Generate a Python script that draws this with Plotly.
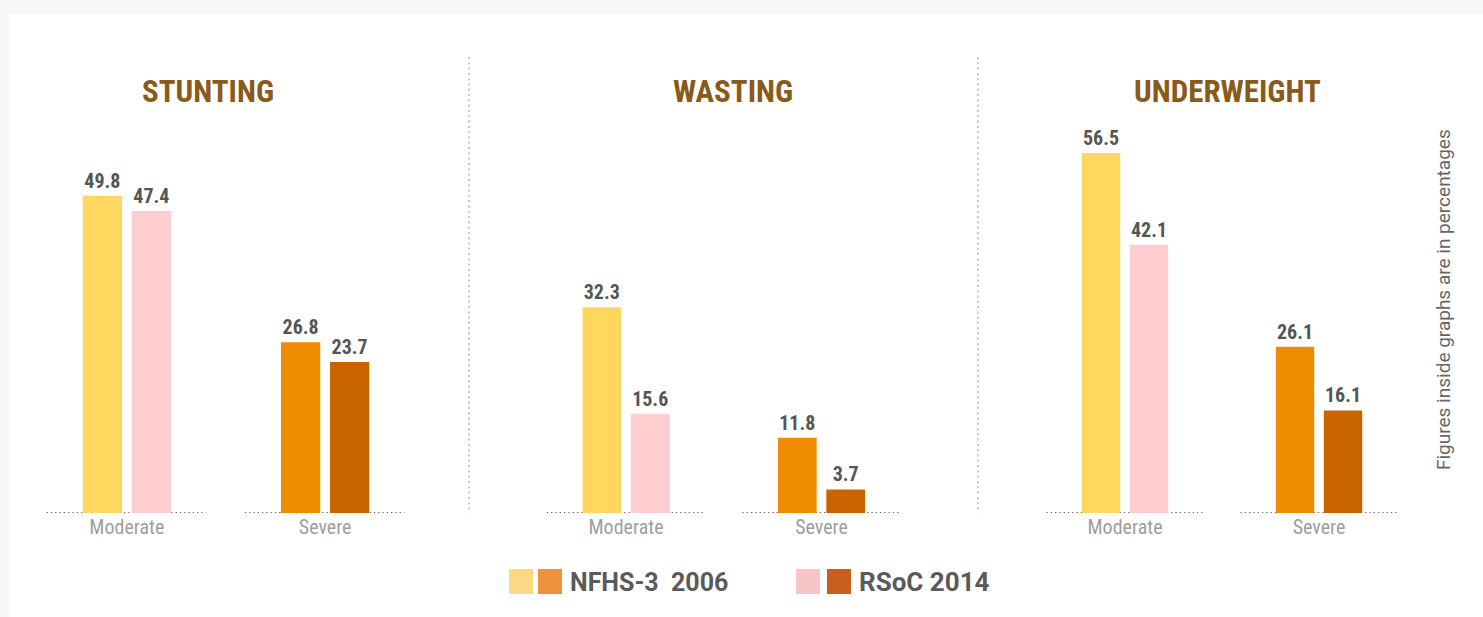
import plotly.graph_objects as go

W, H = 1483, 617

panels = ["STUNTING", "WASTING", "UNDERWEIGHT"]
categories = ["Moderate", "Severe"]
nfhs_2006 = [[49.8, 26.8], [32.3, 11.8], [56.5, 26.1]]
rsoc_2014 = [[47.4, 23.7], [15.6, 3.7], [42.1, 16.1]]
legend_labels = ["NFHS-3  2006", "RSoC 2014"]

COND = "Roboto Condensed, Roboto, sans-serif"
NFHS_COLORS = ["#ffd75e", "#ee8b00"]
RSOC_COLORS = ["#ffcccf", "#c96400"]

# pixel domains (x) for each panel, category centres spaced by group width
x_domains = [(27.75, 424.25), (528.25, 919.25), (1028, 1416)]
title_centres = [208, 733, 1227]
base_px, top_px = 513, 131
y_max = (base_px - top_px) / 6.37


def px(x):
    return x / W


def py(y):
    return 1 - y / H


fig = go.Figure()
shapes = []
annotations = []

for i, name in enumerate(panels):
    xa = "x" if i == 0 else f"x{i + 1}"
    ya = "y" if i == 0 else f"y{i + 1}"
    for vals, cols in ((nfhs_2006[i], NFHS_COLORS), (rsoc_2014[i], RSOC_COLORS)):
        fig.add_trace(go.Bar(
            x=categories, y=vals, xaxis=xa, yaxis=ya,
            marker=dict(color=cols, line=dict(width=0)),
            text=[f"{v:.1f}" for v in vals], textposition="outside",
            textfont=dict(family=COND, size=20, color="#555555", weight="bold"),
            cliponaxis=False, showlegend=False, hoverinfo="skip",
        ))
    d0, d1 = x_domains[i]
    fig.layout[f"xaxis{'' if i == 0 else i + 1}"] = dict(
        domain=[px(d0), px(d1)], anchor=ya, range=[-0.5, 1.5], showgrid=False,
        zeroline=False, showline=False, ticks="", fixedrange=True,
        tickfont=dict(family=COND, size=20, color="#9e9e9e"),
    )
    fig.layout[f"yaxis{'' if i == 0 else i + 1}"] = dict(
        domain=[py(base_px), py(top_px)], anchor=xa, range=[0, y_max],
        visible=False, fixedrange=True,
    )
    # dotted baselines under each category
    for c in range(2):
        shapes.append(dict(type="line", xref=xa, yref=ya, x0=c - 0.405, x1=c + 0.4,
                           y0=0, y1=0, line=dict(color="#333333", width=1.3, dash="1.3px,3px"),
                           layer="below"))
    annotations.append(dict(
        text=f"<b>{name}</b>", x=px(title_centres[i]), y=py(91), xref="paper", yref="paper",
        showarrow=False, xanchor="center", yanchor="middle",
        font=dict(family=COND, size=31, color="#8a5a19"),
    ))

# white card
shapes.insert(0, dict(type="rect", xref="paper", yref="paper", x0=px(9), x1=1.01,
                      y0=-0.01, y1=py(14), fillcolor="white", line=dict(width=0),
                      layer="below"))
# panel separators
for sx in (469, 978):
    shapes.append(dict(type="line", xref="paper", yref="paper", x0=px(sx), x1=px(sx),
                       y0=py(57), y1=py(513),
                       line=dict(color="#b5b5b5", width=1.5, dash="2px,3.3px")))

# legend
legend_swatches = [[("#fbd786", 509), ("#ef9240", 538)], [("#f7c5c8", 796), ("#c95f1f", 827)]]
legend_text_x = [568, 857]
legend_sizes = [25, 26]
for sw, lab, tx, fs in zip(legend_swatches, legend_labels, legend_text_x, legend_sizes):
    for col, x0 in sw:
        shapes.append(dict(type="rect", xref="paper", yref="paper", x0=px(x0), x1=px(x0 + 24),
                           y0=py(594), y1=py(569), fillcolor=col, line=dict(width=0)))
    annotations.append(dict(
        text=f"<b>{lab}</b>", x=px(tx), y=py(582), xref="paper", yref="paper",
        showarrow=False, xanchor="left", yanchor="middle",
        font=dict(family="Roboto, sans-serif", size=fs, color="#5a5a5a"),
    ))

annotations.append(dict(
    text="Figures inside graphs are in percentages", x=px(1443), y=py(300),
    xref="paper", yref="paper", showarrow=False, textangle=-90,
    xanchor="center", yanchor="middle",
    font=dict(family="Roboto, sans-serif", size=19, color="#666666"),
))

fig.update_layout(
    width=W, height=H, margin=dict(l=0, r=0, t=0, b=0),
    paper_bgcolor="#f7f7fa", plot_bgcolor="rgba(0,0,0,0)",
    barmode="group", bargap=0.505, bargroupgap=0.2,
    shapes=shapes, annotations=annotations, showlegend=False,
)

fig.write_html("out.html", config={"displayModeBar": False},
               post_script="document.body.style.margin='0';")
